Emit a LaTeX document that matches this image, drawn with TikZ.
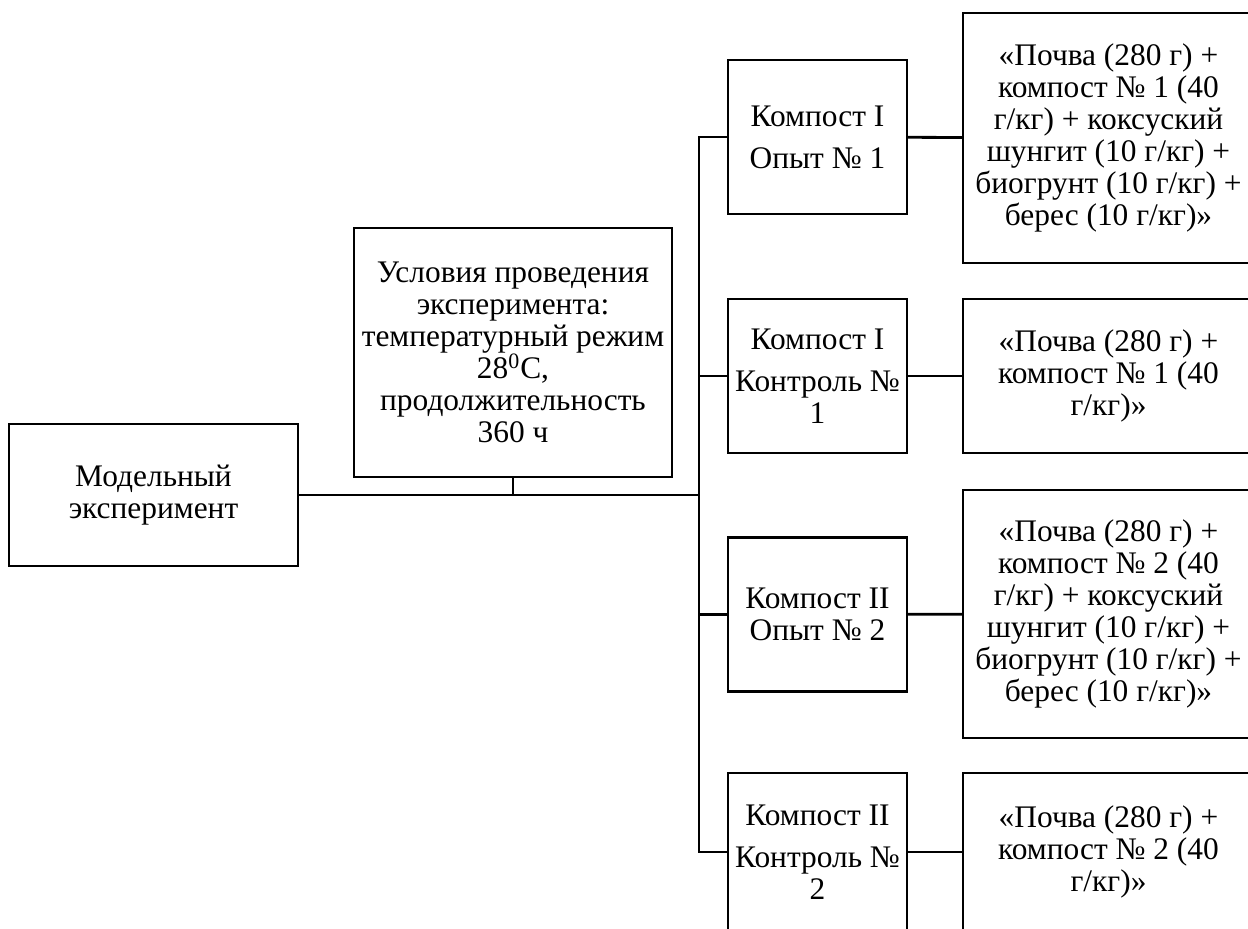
\documentclass[tikz,border=0pt]{standalone}
\usepackage{fontspec}
\setmainfont{Liberation Serif}
\usepackage{tikz}
\tikzset{
box/.style = {draw, line width=1.1pt, inner sep=2pt, align=center,
              font=\fontsize{15.7pt}{16pt}\selectfont},
small/.style = {box, minimum width=89.5pt, minimum height=#1},
small/.default = 77pt, % height of the middle boxes
big/.style = {box, minimum width=145.5pt, minimum height=#1},
big/.default = 77pt, % height of the short boxes
link/.style = {line width=1.4pt}
}

\begin{document}
\begin{tikzpicture}[x=0.5pt, y=-0.5pt]
      \path[use as bounding box, clip] (0,0) rectangle (1248,929);
      % left part
      \node [box, minimum width=144.5pt, minimum height=71pt] (model) at (153.5,495)
        {Модельный\\эксперимент};
      \node [box, minimum width=159pt, minimum height=124.5pt] (usl) at (513,352.5)
        {Условия проведения\\эксперимента:\\температурный режим\\28\textsuperscript{0}С,\\продолжительность\\360 ч};
      \coordinate (stvol) at (699,495);
      % middle column
      \node [small] (opyt1) at (817.5,137) {Компост I\\[5pt]Опыт № 1};
      \node [small] (kontr1) at (817.5,376) {Компост I\\[5pt]Контроль №\\1};
      \node [small] (opyt2) at (817.5,614.5) {Компост II\\Опыт № 2};
      \node [small=79pt] (kontr2) at (817.5,852) {Компост II\\[5pt]Контроль №\\2};
      % right column
      \node [big=125pt] (sost1) at (1108.5,138)
        {«Почва (280 г) +\\компост № 1 (40\\г/кг) + коксуский\\шунгит (10 г/кг) +\\биогрунт (10 г/кг) +\\берес (10 г/кг)»};
      \node [big] (sost2) at (1108.5,376)
        {«Почва (280 г) +\\компост № 1 (40\\г/кг)»};
      \node [big=124pt] (sost3) at (1108.5,614)
        {«Почва (280 г) +\\компост № 2 (40\\г/кг) + коксуский\\шунгит (10 г/кг) +\\биогрунт (10 г/кг) +\\берес (10 г/кг)»};
      \node [big=79pt] (sost4) at (1108.5,852)
        {«Почва (280 г) +\\компост № 2 (40\\г/кг)»};
      % connectors
      \draw [link] (model) -- (stvol);
      \draw [link] (usl.south) -- (usl.south |- stvol);
      \draw [link] (opyt1.west) -- (opyt1.west -| stvol) -- (kontr2.west -| stvol) -- (kontr2.west);
      \foreach \n in {kontr1, opyt2}
        \draw [link] (\n.west) -- (\n.west -| stvol);
      \foreach \i/\n in {1/opyt1, 2/kontr1, 3/opyt2, 4/kontr2}
        \draw [link] (\n) -- (sost\i);
    \end{tikzpicture}
\end{document}
